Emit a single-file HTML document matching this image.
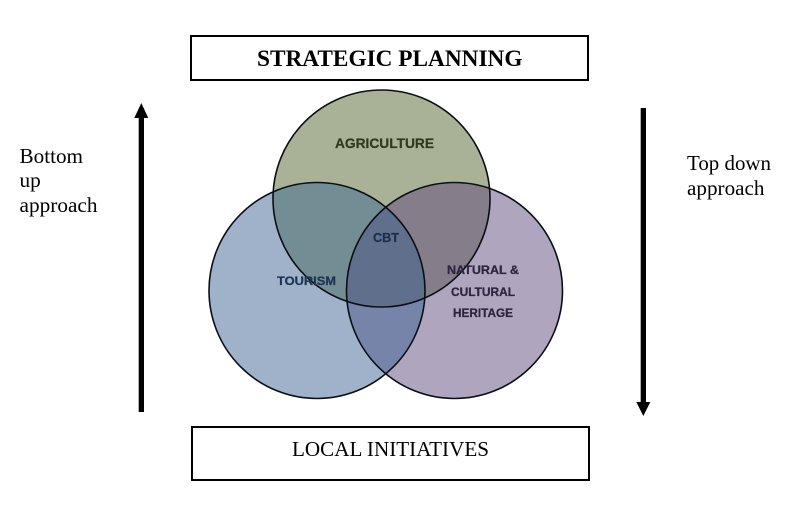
<!DOCTYPE html>
<html>
<head>
<meta charset="utf-8">
<style>
html,body{margin:0;padding:0;background:#fff;width:796px;height:513px;overflow:hidden}
svg{display:block}
.s{font-family:"Liberation Serif",serif;fill:#000}
.b{font-family:"Liberation Sans",sans-serif;font-weight:bold;stroke-width:.25}
</style>
</head>
<body>
<svg width="796" height="513" viewBox="0 0 796 513" xmlns="http://www.w3.org/2000/svg">
<defs>
<clipPath id="cT"><circle cx="381.5" cy="198.5" r="108.5"/></clipPath>
<clipPath id="cL"><circle cx="317" cy="290.5" r="108"/></clipPath>
<clipPath id="cR"><circle cx="454.5" cy="290.5" r="108"/></clipPath>
</defs>
<rect width="796" height="513" fill="#fff"/>

<rect x="191" y="36" width="397" height="44" fill="#fff" stroke="#000" stroke-width="2"/>
<rect x="192" y="427" width="397" height="53" fill="#fff" stroke="#000" stroke-width="2"/>
<text class="s" x="257" y="66" font-size="23" font-weight="bold" textLength="265.500" lengthAdjust="spacingAndGlyphs">STRATEGIC PLANNING</text>
<text class="s" x="292" y="456" font-size="21.500" textLength="197" lengthAdjust="spacingAndGlyphs">LOCAL INITIATIVES</text>

<circle cx="381.5" cy="198.5" r="108.5" fill="#a9b297"/>
<circle cx="317" cy="290.5" r="108" fill="#9fb2ca"/>
<circle cx="454.5" cy="290.5" r="108" fill="#afa5be"/>
<g clip-path="url(#cT)">
<circle cx="317" cy="290.5" r="108" fill="#738d95"/>
<circle cx="454.5" cy="290.5" r="108" fill="#857d89"/>
</g>
<g clip-path="url(#cL)">
<circle cx="454.5" cy="290.5" r="108" fill="#7684a9"/>
<g clip-path="url(#cT)"><circle cx="454.5" cy="290.5" r="108" fill="#5f6f8c"/></g>
</g>
<g fill="none" stroke="#0a0f14" stroke-width="1.600">
<circle cx="381.5" cy="198.5" r="108.5"/>
<circle cx="317" cy="290.5" r="108"/>
<circle cx="454.5" cy="290.5" r="108"/>
</g>

<text class="b" x="335" y="148" font-size="14" fill="#2f3a1e" stroke="#2f3a1e" textLength="99" lengthAdjust="spacingAndGlyphs">AGRICULTURE</text>
<text class="b" x="373" y="242" font-size="13" fill="#1d2f4a" stroke="#1d2f4a" textLength="26" lengthAdjust="spacingAndGlyphs">CBT</text>
<text class="b" x="277" y="285" font-size="12" fill="#1c3553" stroke="#1c3553" textLength="59" lengthAdjust="spacingAndGlyphs">TOURISM</text>
<text class="b" x="447" y="274" font-size="12" fill="#2d2440" stroke="#2d2440" textLength="72" lengthAdjust="spacingAndGlyphs">NATURAL &amp;</text>
<text class="b" x="451" y="296" font-size="12" fill="#2d2440" stroke="#2d2440" textLength="64" lengthAdjust="spacingAndGlyphs">CULTURAL</text>
<text class="b" x="453" y="317" font-size="12" fill="#2d2440" stroke="#2d2440" textLength="60" lengthAdjust="spacingAndGlyphs">HERITAGE</text>

<rect x="138.700" y="116" width="5.300" height="296" fill="#000"/>
<polygon points="141.300,103 148.300,118 134.300,118" fill="#000"/>
<rect x="640.700" y="108" width="5.300" height="296" fill="#000"/>
<polygon points="643.300,416 636.300,402 650.300,402" fill="#000"/>

<text class="s" x="19.500" y="163" font-size="21.300" textLength="63.500" lengthAdjust="spacingAndGlyphs">Bottom</text>
<text class="s" x="19.500" y="187" font-size="21.300">up</text>
<text class="s" x="19.500" y="212" font-size="21.300" textLength="78" lengthAdjust="spacingAndGlyphs">approach</text>
<text class="s" x="687" y="170" font-size="21.300" textLength="84" lengthAdjust="spacingAndGlyphs">Top down</text>
<text class="s" x="687" y="195" font-size="21.300" textLength="77.500" lengthAdjust="spacingAndGlyphs">approach</text>
</svg>
</body>
</html>
